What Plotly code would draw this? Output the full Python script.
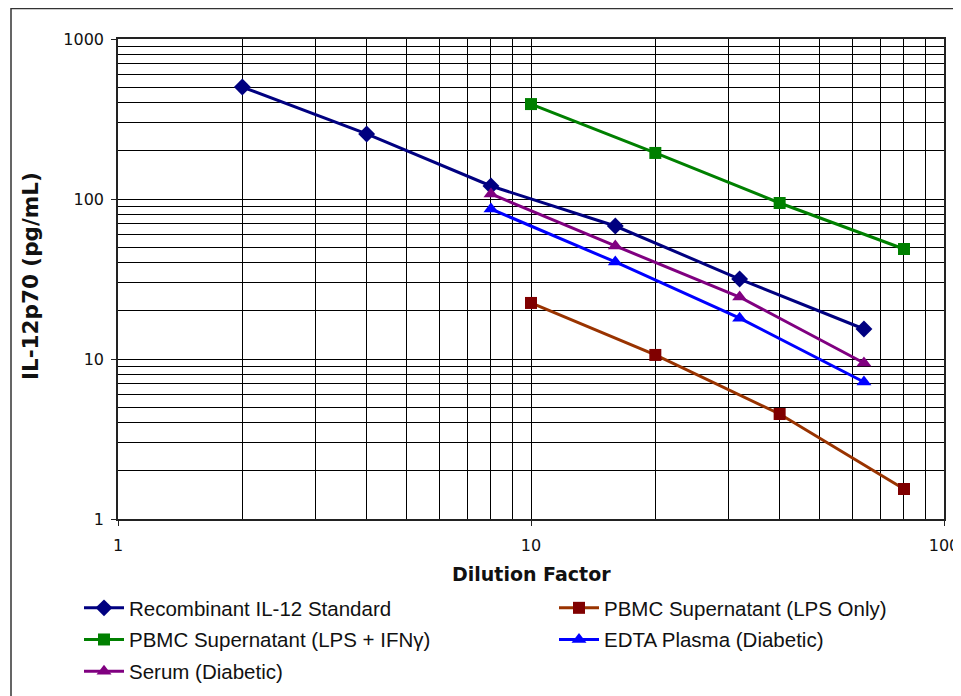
import plotly.graph_objects as go

# ---- data ----
std_x = [2, 4, 8, 16, 32, 64]
std_y = [501, 255, 120.6, 67.8, 31.6, 15.4]

lps_x = [10, 20, 40, 80]
lps_y = [22.4, 10.6, 4.53, 1.54]

ifn_x = [10, 20, 40, 80]
ifn_y = [392, 194, 94.4, 48.7]

edta_x = [8, 16, 32, 64]
edta_y = [86.6, 40.4, 18.0, 7.18]

serum_x = [8, 16, 32, 64]
serum_y = [107.5, 50.9, 24.4, 9.44]

x_ticks = [1, 10, 100]
y_ticks = [1, 10, 100, 1000]

names = ["Recombinant IL-12 Standard", "PBMC Supernatant (LPS Only)",
         "PBMC Supernatant (LPS + IFNγ)", "EDTA Plasma (Diabetic)", "Serum (Diabetic)"]

# ---- layout geometry (page pixels; the page body adds an 8px offset) ----
OFF = 8
W, H = 961, 696 - OFF
PL, PR, PT, PB = 118, 944, 39, 519          # plot area in page pixels
L, R, T, B = PL - OFF, PR - OFF, PT - OFF, PB - OFF
pw, ph = R - L, B - T

def px(xp):
    return (xp - PL) / pw

def py(yp):
    return (PB - yp) / ph

fig = go.Figure()

def add(x, y, name, lc, mc, sym, size, legend, group):
    fig.add_trace(go.Scatter(
        x=x, y=y, name=name, mode="lines+markers",
        line=dict(color=lc, width=3),
        marker=dict(symbol=sym, size=size, color=mc, line=dict(width=0)),
        legend=legend, legendgroup=group,
    ))

add(std_x, std_y, names[0], "#000080", "#000080", "diamond", 13, "legend", "a")
add(lps_x, lps_y, names[1], "#993300", "#800000", "square", 12, "legend2", "b")
add(ifn_x, ifn_y, names[2], "#008000", "#008000", "square", 12, "legend", "c")
add(edta_x, edta_y, names[3], "#0000FF", "#0000FF", "triangle-up", 13, "legend2", "d")
add(serum_x, serum_y, names[4], "#800080", "#800080", "triangle-up", 13, "legend", "e")

tickfont = dict(family="DejaVu Sans", size=16, color="#111")
axis_common = dict(
    type="log", showline=True, linecolor="#222", linewidth=1.5, mirror=True,
    ticks="outside", ticklen=5, tickcolor="#222", tickwidth=1,
    showgrid=True, gridcolor="#000", gridwidth=1,
    minor=dict(dtick="D1", showgrid=True, gridcolor="#000", gridwidth=1, ticks=""),
    tickfont=tickfont, zeroline=False, automargin=False,
)

fig.update_xaxes(**axis_common, range=[0, 2], tickvals=x_ticks,
                 ticktext=[str(v) for v in x_ticks], ticklabelstandoff=6)
fig.update_yaxes(**axis_common, range=[0, 3], tickvals=y_ticks,
                 ticktext=[str(v) for v in y_ticks], ticklabelstandoff=4)

legfont = dict(family="Liberation Sans", size=20.5, color="#111")
fig.update_layout(
    width=W, height=H,
    margin=dict(l=L, r=W - R, t=T, b=H - B, pad=0, autoexpand=False),
    paper_bgcolor="white", plot_bgcolor="white",
    showlegend=True,
    legend=dict(x=px(79), y=py(588), xanchor="left", yanchor="top", orientation="v",
                font=legfont, tracegroupgap=2, bgcolor="rgba(0,0,0,0)", itemwidth=40),
    legend2=dict(x=px(554), y=py(588), xanchor="left", yanchor="top", orientation="v",
                 font=legfont, tracegroupgap=2, bgcolor="rgba(0,0,0,0)", itemwidth=40),
    annotations=[
        dict(text="<b>Dilution Factor</b>", xref="paper", yref="paper",
             x=px(531), y=py(574), xanchor="center", yanchor="middle", showarrow=False,
             font=dict(family="DejaVu Sans", size=19, color="#111")),
        dict(text="<b>IL-12p70 (pg/mL)</b>", xref="paper", yref="paper",
             x=px(30), y=py(276), xanchor="center", yanchor="middle", showarrow=False,
             textangle=-90, font=dict(family="DejaVu Sans", size=21.5, color="#111")),
    ],
    shapes=[dict(type="rect", xref="paper", yref="paper",
                 x0=px(11), x1=px(985), y0=py(8.5), y1=py(710),
                 line=dict(color="#333", width=1.5), fillcolor="rgba(0,0,0,0)", layer="below")],
)

fig.write_html("out.html")
